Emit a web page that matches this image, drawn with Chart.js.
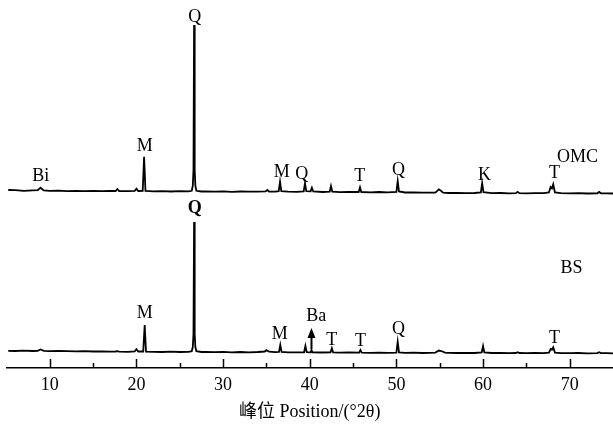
<!DOCTYPE html>
<html>
<head>
<meta charset="utf-8">
<script src="https://cdn.jsdelivr.net/npm/chart.js@4.4.0/dist/chart.umd.min.js"></script>
<style>
  body { margin: 0; background: #fff; }
</style>
</head>
<body>
<canvas id="xrdChart" width="613" height="437"></canvas>
<script>
// 2θ positions (°) and intensities (a.u.)
const omcTheta = [5.2, 6, 7, 8, 8.6, 8.93, 9.3, 10, 11, 12, 13, 14, 15, 16, 17, 17.6, 17.8, 18.0, 19, 19.8, 20.0, 20.2,
  20.72, 20.88, 21.04, 22, 23, 24, 25, 26, 26.38, 26.5, 26.58, 26.65, 26.72, 26.8, 26.92, 27.5, 28, 29, 30, 31, 32, 33, 34,
  34.9, 35.1, 35.3, 36, 36.42, 36.57, 36.72, 37.5, 38.5, 39.3, 39.45, 39.6, 40.1, 40.25, 40.4, 41.5, 42.3, 42.45, 42.6,
  43.5, 44.5, 45.65, 45.8, 45.95, 47, 48, 49, 50.0, 50.15, 50.3, 51, 52, 53, 54.5, 54.9, 55.1, 55.4, 56, 57, 58, 59,
  59.75, 59.9, 60.05, 61, 62, 63, 63.8, 64.0, 64.2, 65, 66, 67, 67.6, 67.8, 67.95, 68.1, 68.3, 69, 70, 71, 72, 73.2,
  73.4, 73.6, 74.3, 75];
const omcIntensity = [2, 1.8, 1.2, 1.6, 1.8, 4.3, 1.6, 1.2, 1.4, 0.9, 1.2, 0.8, 1.1, 0.9, 1.2, 1, 3, 1, 0.8, 1.2, 3.3, 1,
  1.2, 35.3, 1.2, 0.6, 0.9, 0.5, 0.8, 0.6, 1.2, 6, 22, 167, 22, 6, 1.2, 0.5, 0.7, 0.3, 0.6, 0.2, 0.5, 0.3, 0.4,
  0.6, 2, 0.5, 0.3, 0.8, 10.3, 0.8, 0.3, 0.2, 0.5, 8.7, 0.8, 0.6, 4.3, 0.5, 0, 0.4, 6, 0.4,
  -0.2, 0, 0, 4.7, 0, -0.3, 0, -0.4, 0, 11, 0.5, -0.5, -0.3, -0.7, -0.6, 2.7, 1.5, -0.6, -1, -0.8, -1.2, -1,
  -0.5, 8.7, -0.2, -1.2, -1, -1.3, -1.2, 0.2, -1.1, -1.4, -1.2, -1.1, -0.5, 5, 3.5, 7.7, -0.5, -1.2, -1.4, -1.2, -1.5, -1.3,
  0, -1.3, -1.4, -1.5];

const bsTheta = [5.2, 6, 7, 8, 8.6, 8.93, 9.3, 10, 11, 12, 13, 14, 15, 16, 17, 17.6, 17.8, 18.0, 19, 19.8, 20.0, 20.2,
  20.78, 20.95, 21.1, 22, 23, 24, 25, 26, 26.38, 26.5, 26.58, 26.65, 26.72, 26.8, 26.92, 27.5, 28, 29, 30, 31, 32, 33, 34,
  34.8, 35.0, 35.3, 36, 36.45, 36.6, 36.75, 37.5, 38.5, 39.35, 39.5, 39.65, 40.1, 40.2, 40.3, 41.5, 42.4, 42.55, 42.7,
  43.5, 44.5, 45.7, 45.85, 46.0, 47, 48, 49, 50.0, 50.15, 50.3, 51, 52, 53, 54.5, 54.9, 55.2, 55.6, 56, 57, 58, 59,
  59.85, 60.0, 60.15, 61, 62, 63, 63.8, 64.0, 64.2, 65, 66, 67, 67.6, 67.8, 67.95, 68.1, 68.3, 69, 70, 71, 72, 73.2,
  73.4, 73.6, 74.3, 75];
const bsIntensity = [1.2, 1, 1.4, 1, 1.2, 2.5, 1.2, 0.8, 1, 0.9, 0.6, 0.9, 0.5, 0.7, 0.4, 0.5, 0.9, 0.4, 0.2, 0.6, 2.7, 0.5,
  0.5, 27, 0.4, 0.2, 0, 0.3, 0, 0.2, 0.8, 5, 18, 130, 18, 5, 0.8, 0, 0.2, -0.2, 0.1, -0.3, 0, -0.3, 0,
  0.5, 1.8, 0.3, -0.2, 0, 7, 0, -0.4, -0.3, -0.3, 6, -0.2, -0.3, 2, -0.3, -0.5, -0.4, 3.7, -0.4,
  -0.6, -0.5, -0.6, 2, -0.6, -0.8, -0.6, -0.8, -0.6, 10.3, -0.3, -0.8, -0.7, -1, -0.6, 1.5, 1, -0.6, -0.9, -1, -0.8, -1,
  -0.5, 6, -0.5, -1, -0.9, -1.1, -1, -0.2, -1, -1.2, -1, -1.1, -0.6, 3, 2.2, 4.7, -0.6, -1.1, -1.2, -1, -1.3, -1.1,
  -0.3, -1.1, -1.2, -1.3];

const xTicks = [10, 20, 30, 40, 50, 60, 70];
const omcOffset = 176;
const bsOffset = 16;

// phase labels: text, 2θ, height on the plot
const phaseLabels = [
  { text: 'Bi', theta: 8.96, level: 192 },
  { text: 'M', theta: 20.96, level: 221.5 },
  { text: 'Q', theta: 26.72, level: 351 },
  { text: 'M', theta: 36.76, level: 195.5 },
  { text: 'Q', theta: 39.07, level: 194 },
  { text: 'T', theta: 45.76, level: 191.5 },
  { text: 'Q', theta: 50.25, level: 198 },
  { text: 'K', theta: 60.17, level: 193 },
  { text: 'T', theta: 68.25, level: 194.5 },
  { text: 'OMC', theta: 70.9, level: 211 },
  { text: 'M', theta: 20.96, level: 54.5 },
  { text: 'Q', theta: 26.72, level: 160, bold: true },
  { text: 'M', theta: 36.53, level: 33.5 },
  { text: 'Ba', theta: 40.76, level: 51.3 },
  { text: 'T', theta: 42.53, level: 28 },
  { text: 'T', theta: 45.87, level: 27 },
  { text: 'Q', theta: 50.25, level: 38.5 },
  { text: 'T', theta: 68.25, level: 30 },
  { text: 'BS', theta: 70.2, level: 100 }
];
const arrowTheta = 40.2;
const arrowFrom = 19;
const arrowTo = 40;

const serif = '"Liberation Serif", "Times New Roman", "Noto Sans CJK SC", serif';

const xrdMarks = {
  id: 'xrdMarks',
  afterDatasetsDraw(chart) {
    const { ctx, chartArea, scales: { x, y } } = chart;
    ctx.save();
    ctx.strokeStyle = '#000';
    ctx.fillStyle = '#000';
    ctx.lineWidth = 1.5;
    // ticks point up into the plot
    for (let v = 10; v <= 70; v += 5) {
      const px = Math.round(x.getPixelForValue(v)) + 0.5;
      const len = v % 10 === 0 ? 9 : 5;
      ctx.beginPath();
      ctx.moveTo(px, chartArea.bottom);
      ctx.lineTo(px, chartArea.bottom - len);
      ctx.stroke();
    }
    ctx.textAlign = 'center';
    ctx.textBaseline = 'middle';
    phaseLabels.forEach(l => {
      ctx.font = (l.bold ? 'bold ' : '') + '18px ' + serif;
      ctx.fillText(l.text, x.getPixelForValue(l.theta), y.getPixelForValue(l.level));
    });
    // arrow under Ba
    const ax = x.getPixelForValue(arrowTheta);
    const y0 = y.getPixelForValue(arrowFrom);
    const y1 = y.getPixelForValue(arrowTo);
    ctx.lineWidth = 2;
    ctx.beginPath();
    ctx.moveTo(ax, y0);
    ctx.lineTo(ax, y1 + 8);
    ctx.stroke();
    ctx.beginPath();
    ctx.moveTo(ax, y1);
    ctx.lineTo(ax - 4, y1 + 10);
    ctx.lineTo(ax + 4, y1 + 10);
    ctx.closePath();
    ctx.fill();
    ctx.restore();
  }
};

const toPoints = (theta, vals, offset) => theta.map((t, i) => ({ x: t, y: vals[i] + offset }));

new Chart(document.getElementById('xrdChart'), {
  type: 'scatter',
  data: {
    datasets: [
      {
        label: 'OMC',
        data: toPoints(omcTheta, omcIntensity, omcOffset),
        showLine: true,
        borderColor: '#000',
        borderWidth: 1.8,
        pointRadius: 0,
        tension: 0
      },
      {
        label: 'BS',
        data: toPoints(bsTheta, bsIntensity, bsOffset),
        showLine: true,
        borderColor: '#000',
        borderWidth: 1.8,
        pointRadius: 0,
        tension: 0
      }
    ]
  },
  options: {
    responsive: false,
    animation: false,
    devicePixelRatio: 1,
    layout: { padding: { left: 6.5, right: 0, top: 0, bottom: 0 } },
    plugins: {
      legend: { display: false },
      tooltip: { enabled: false }
    },
    scales: {
      x: {
        type: 'linear',
        min: 5,
        max: 75,
        afterBuildTicks: (scale) => { scale.ticks = xTicks.map(v => ({ value: v })); },
        afterFit: (scale) => { scale.height = 69; },
        grid: { display: true, drawOnChartArea: false, drawTicks: false, color: 'rgba(0,0,0,0)' },
        border: { display: true, color: '#000', width: 1.5 },
        ticks: {
          autoSkip: false,
          maxRotation: 0,
          padding: 6,
          color: '#000',
          font: { family: serif, size: 18 }
        },
        title: {
          display: true,
          text: '峰位 Position/(°2θ)',
          color: '#000',
          font: { family: serif, size: 18 },
          padding: { top: 0, bottom: 14 }
        }
      },
      y: {
        display: false,
        min: 0,
        max: 368
      }
    }
  },
  plugins: [xrdMarks]
});
</script>
</body>
</html>
